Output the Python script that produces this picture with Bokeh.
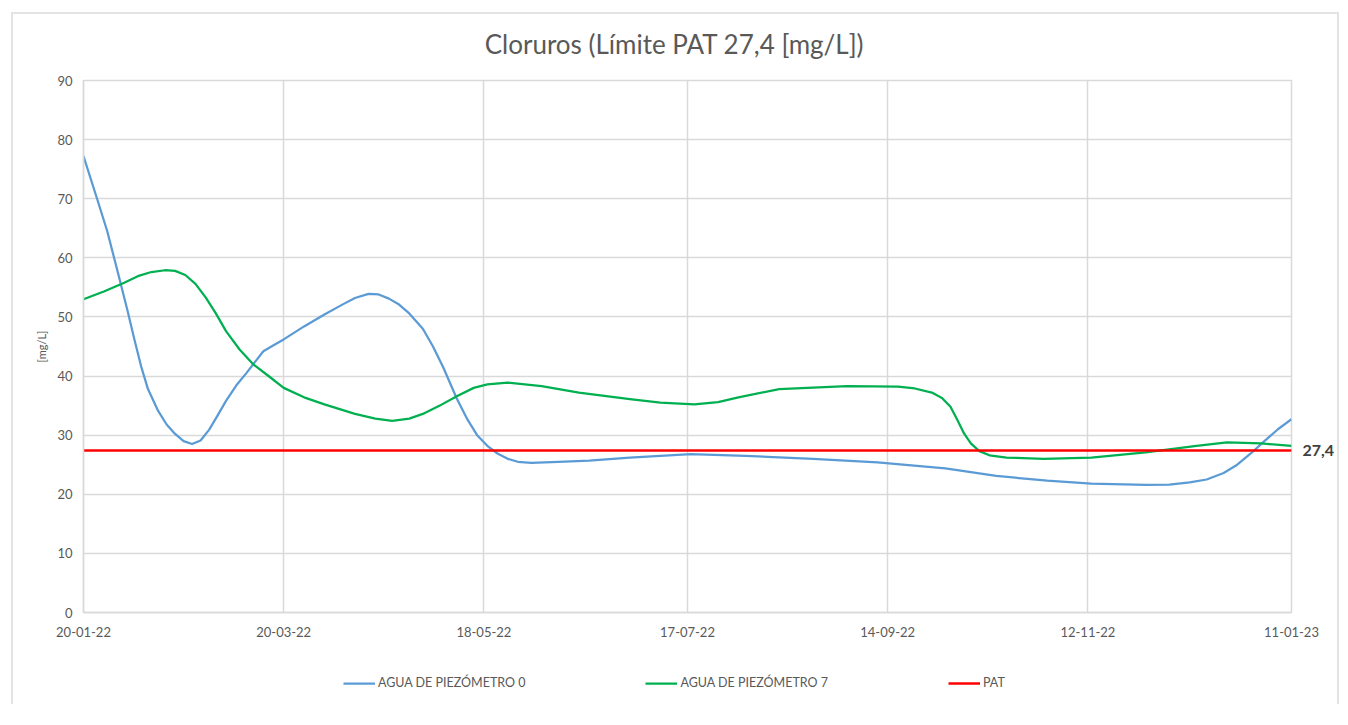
import pandas as pd
from bokeh.plotting import figure
from bokeh.layouts import column
from bokeh.models import (FixedTicker, Range1d, Legend, LegendItem, LinearAxis,
                          Label)
from bokeh.embed import file_html
from bokeh.resources import INLINE

# ---------------- data ----------------
start_date = "2022-01-20"
end_date = "2023-01-11"
tick_dates = ["2022-01-20", "2022-03-20", "2022-05-18", "2022-07-17",
              "2022-09-14", "2022-11-12", "2023-01-11"]
tick_labels = ["20-01-22", "20-03-22", "18-05-22", "17-07-22",
               "14-09-22", "12-11-22", "11-01-23"]

# days after 20-01-22 and the value read at that date
p0_days = [0, 4, 7, 10, 13, 15, 17, 19, 22, 24.5, 27, 29.5, 32, 34.5, 37,
           39.5, 42, 45, 48, 53, 56, 59, 65, 71, 76, 80, 84, 87, 90, 93, 96,
           100, 103, 106, 110, 113, 116, 119, 122, 125, 128, 132, 140, 149,
           161, 170, 179, 195, 215, 234, 254, 269, 284, 297, 313, 320, 326,
           331, 336, 340, 344, 348, 352, 356]
p0_vals = [77.2, 70.0, 64.5, 57.8, 51.0, 46.2, 41.6, 37.8, 34.1, 31.8, 30.2,
           29.0, 28.5, 29.1, 30.9, 33.3, 35.8, 38.4, 40.5, 44.2, 45.2, 46.2,
           48.4, 50.4, 52.0, 53.2, 53.9, 53.8, 53.1, 52.1, 50.6, 48.0, 45.0,
           41.5, 36.2, 32.8, 30.0, 28.2, 26.9, 26.0, 25.5, 25.3, 25.5, 25.7,
           26.2, 26.5, 26.8, 26.5, 26.0, 25.4, 24.4, 23.1, 22.3, 21.8, 21.6,
           21.65, 22.0, 22.5, 23.6, 25.0, 26.9, 29.0, 31.0, 32.7]

p7_days = [0, 6, 12, 16, 20, 24, 27, 30, 33, 36, 39, 42, 46, 50, 55, 59, 65,
           71, 80, 86, 91, 96, 100, 105, 110, 115, 119, 125, 135, 146, 161,
           170, 180, 187, 193, 205, 225, 240, 245, 250, 253, 255.5, 257.5,
           259.5, 261.5, 264, 267, 272, 283, 297, 313, 328, 337, 347, 356]
p7_vals = [53.0, 54.3, 55.8, 56.9, 57.6, 57.9, 57.8, 57.1, 55.6, 53.3, 50.6,
           47.6, 44.5, 42.0, 39.8, 38.0, 36.4, 35.2, 33.6, 32.8, 32.4, 32.8,
           33.6, 35.0, 36.6, 38.0, 38.6, 38.9, 38.3, 37.2, 36.1, 35.5, 35.2,
           35.6, 36.4, 37.8, 38.3, 38.2, 37.9, 37.2, 36.3, 34.8, 32.6, 30.3,
           28.6, 27.3, 26.6, 26.2, 26.0, 26.2, 27.1, 28.2, 28.8, 28.6, 28.2]

pat_limit = 27.4
pat_label = "27,4"
series_names = ["AGUA DE PIEZÓMETRO 0", "AGUA DE PIEZÓMETRO 7", "PAT"]
series_colors = ["#5B9BD5", "#00B050", "#FF0000"]
series_widths = [2.25, 2.25, 2.5]
title_text = "Cloruros (Límite PAT 27,4 [mg/L])"
y_label = "[mg/L]"
y_ticks = [0, 10, 20, 30, 40, 50, 60, 70, 80, 90]

# ---------------- build ----------------
t0 = pd.Timestamp(start_date)
x0 = [t0 + pd.Timedelta(days=d) for d in p0_days]
x7 = [t0 + pd.Timedelta(days=d) for d in p7_days]
t_start = pd.Timestamp(start_date)
t_end = pd.Timestamp(end_date)
series_x = [x0, x7, [t_start, t_end]]
series_y = [p0_vals, p7_vals, [pat_limit, pat_limit]]

FONT = "Lato"
GRID = "#d9d9d9"
TXT = "#595959"
W = 1324

# ---- title strip ----
t = figure(width=W, height=56, output_backend="svg", toolbar_location=None,
           x_range=Range1d(0, 1), y_range=Range1d(0, 1),
           x_axis_location=None, y_axis_location=None,
           min_border_left=0, min_border_right=0, min_border_top=0,
           min_border_bottom=0)
t.outline_line_color = None
t.grid.visible = False
t.background_fill_color = "white"
t.border_fill_color = "white"
t.add_layout(Label(x=0.5, y=0.5, x_offset=-13, y_offset=-1, text=title_text,
                   text_align="center", text_baseline="middle",
                   text_font=FONT, text_font_size="26px",
                   text_color=TXT))

# ---- main chart ----
p = figure(width=W, height=594, x_axis_type="datetime",
           output_backend="svg", toolbar_location=None,
           x_range=Range1d(t_start, t_end), y_range=Range1d(0, 90),
           min_border_left=70, min_border_right=W - 1279,
           min_border_top=10, min_border_bottom=52)

p.background_fill_color = "white"
p.border_fill_color = "white"
p.outline_line_color = GRID
p.outline_line_width = 1.5

tick_ms = [pd.Timestamp(d).value // 10**6 for d in tick_dates]
p.xaxis.ticker = FixedTicker(ticks=tick_ms)
p.xaxis.major_label_overrides = {tm: lb for tm, lb in zip(tick_ms, tick_labels)}
p.yaxis.ticker = FixedTicker(ticks=y_ticks)

for ax in (p.xaxis[0], p.yaxis[0]):
    ax.axis_line_color = GRID
    ax.axis_line_width = 1.5
    ax.major_tick_line_color = None
    ax.minor_tick_line_color = None
    ax.major_tick_out = 0
    ax.major_tick_in = 0
    ax.minor_tick_out = 0
    ax.major_label_text_font = FONT
    ax.major_label_text_font_size = "13px"
    ax.major_label_text_color = TXT
p.xaxis.major_label_standoff = 14
p.yaxis.major_label_standoff = 11
p.yaxis.axis_label = y_label
p.yaxis.axis_label_text_font = FONT
p.yaxis.axis_label_text_font_size = "11px"
p.yaxis.axis_label_text_font_style = "normal"
p.yaxis.axis_label_text_color = TXT
p.yaxis.axis_label_standoff = 6

# right axis carrying the limit value label
ra = LinearAxis(ticker=FixedTicker(ticks=[pat_limit]),
                major_label_overrides={pat_limit: pat_label})
ra.axis_line_color = None
ra.major_tick_line_color = None
ra.minor_tick_line_color = None
ra.major_tick_out = 0
ra.major_tick_in = 0
ra.minor_tick_out = 0
ra.major_label_standoff = 11
ra.major_label_text_font = FONT
ra.major_label_text_font_size = "16px"
ra.major_label_text_font_style = "bold"
ra.major_label_text_color = "#404040"
p.add_layout(ra, "right")

p.xgrid.grid_line_color = GRID
p.ygrid.grid_line_color = GRID
p.xgrid.grid_line_width = 1.5
p.ygrid.grid_line_width = 1.5

for xs, ys, col, lw in zip(series_x, series_y, series_colors, series_widths):
    p.line(xs, ys, line_color=col, line_width=lw, line_join="round")

# ---- legend strip (proxy renderers kept outside its view) ----
q = figure(width=W, height=40, output_backend="svg", toolbar_location=None,
           x_axis_type="datetime",
           x_range=Range1d(t_start, t_end), y_range=Range1d(-200, -100),
           x_axis_location=None, y_axis_location=None,
           min_border_left=0, min_border_right=0, min_border_top=0,
           min_border_bottom=0)
q.outline_line_color = None
q.grid.visible = False
q.background_fill_color = "white"
q.border_fill_color = "white"
items = []
for name, xs, ys, col, lw in zip(series_names, series_x, series_y,
                                 series_colors, series_widths):
    r = q.line(xs, ys, line_color=col, line_width=lw)
    items.append(LegendItem(label=name, renderers=[r]))
legend = Legend(items=items, orientation="horizontal", location=(260, 14),
                glyph_width=32, glyph_height=14, label_height=14,
                label_width=146, label_standoff=3, spacing=120,
                padding=0, margin=0, border_line_color=None,
                background_fill_alpha=0,
                label_text_font=FONT, label_text_font_size="12.5px",
                label_text_color=TXT)
q.add_layout(legend, "center")

layout = column(t, p, q, spacing=0, margin=(12, 0, 0, 11),
                styles={"border-top": "2px solid #e3e3e3",
                        "border-left": "2px solid #e3e3e3",
                        "border-right": "2px solid #e3e3e3"})

open("out.html", "w").write(file_html(layout, INLINE))
